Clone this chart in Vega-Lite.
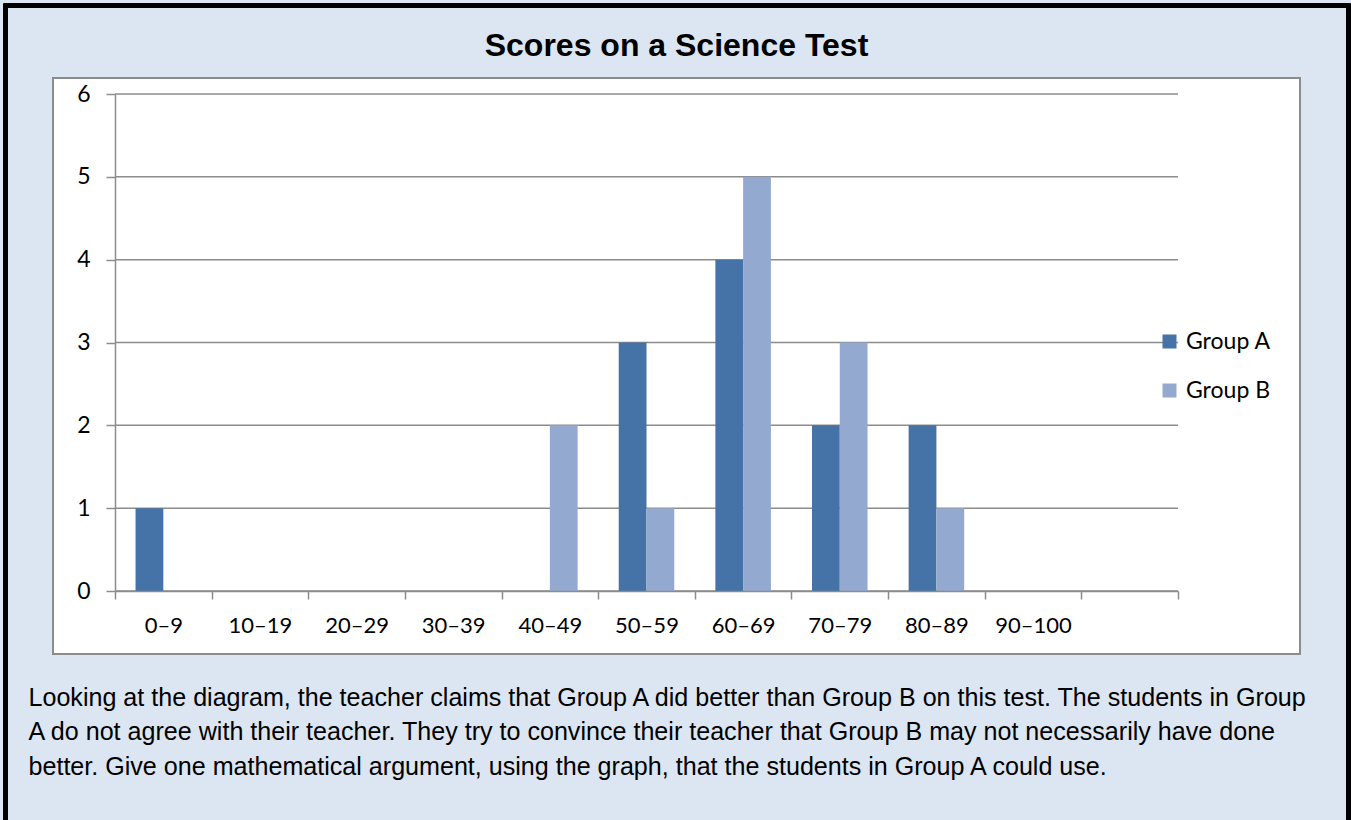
{
  "$schema": "https://vega.github.io/schema/vega-lite/v6.json",
  "width": 1063,
  "height": 497,
  "autosize": {"type": "none"},
  "padding": {"left": 115, "top": 94, "right": 173, "bottom": 229},
  "background": "#dce6f2",
  "config": {"view": {"stroke": null}, "font": "Lato"},
  "title": {
    "text": "Scores on a Science Test",
    "font": "Liberation Sans",
    "fontSize": 32,
    "fontWeight": "bold",
    "color": "#000000",
    "anchor": "middle",
    "frame": "group",
    "baseline": "alphabetic",
    "offset": -84,
    "dx": 30
  },
  "data": {
    "values": [
      {"range": "0–9", "group": "Group A", "count": 1},
      {"range": "0–9", "group": "Group B", "count": 0},
      {"range": "10–19", "group": "Group A", "count": 0},
      {"range": "10–19", "group": "Group B", "count": 0},
      {"range": "20–29", "group": "Group A", "count": 0},
      {"range": "20–29", "group": "Group B", "count": 0},
      {"range": "30–39", "group": "Group A", "count": 0},
      {"range": "30–39", "group": "Group B", "count": 0},
      {"range": "40–49", "group": "Group A", "count": 0},
      {"range": "40–49", "group": "Group B", "count": 2},
      {"range": "50–59", "group": "Group A", "count": 3},
      {"range": "50–59", "group": "Group B", "count": 1},
      {"range": "60–69", "group": "Group A", "count": 4},
      {"range": "60–69", "group": "Group B", "count": 5},
      {"range": "70–79", "group": "Group A", "count": 2},
      {"range": "70–79", "group": "Group B", "count": 3},
      {"range": "80–89", "group": "Group A", "count": 2},
      {"range": "80–89", "group": "Group B", "count": 1},
      {"range": "90–100", "group": "Group A", "count": 0},
      {"range": "90–100", "group": "Group B", "count": 0}
    ]
  },
  "layer": [
    {
      "mark": {"type": "rect", "fill": null, "stroke": "#000000", "strokeWidth": 3.5},
      "encoding": {
        "x": {"datum": "0–9", "type": "nominal", "bandPosition": -1.133},
        "x2": {"datum": "extra", "bandPosition": 2.764},
        "y": {"datum": 7.068, "type": "quantitative"},
        "y2": {"datum": -3}
      }
    },
    {
      "mark": {"type": "rect", "fill": "#ffffff", "stroke": "#8c8c8c", "strokeWidth": 2},
      "encoding": {
        "x": {"datum": "0–9", "type": "nominal", "bandPosition": -0.6416},
        "x2": {"datum": "extra", "bandPosition": 2.2625},
        "y": {"datum": 6.193, "type": "quantitative"},
        "y2": {"datum": -0.76}
      }
    },
    {
      "data": {"values": [{"v": 0}, {"v": 1}, {"v": 2}, {"v": 3}, {"v": 4}, {"v": 5}, {"v": 6}]},
      "mark": {"type": "rule", "stroke": "#8c8c8c", "strokeWidth": 1.5},
      "encoding": {
        "y": {"field": "v", "type": "quantitative"}
      }
    },
    {
      "mark": {"type": "bar"},
      "encoding": {
        "x": {
          "field": "range",
          "type": "nominal",
          "sort": null,
          "scale": {
            "domain": ["0–9", "10–19", "20–29", "30–39", "40–49", "50–59", "60–69", "70–79", "80–89", "90–100", "extra"],
            "paddingInner": 0,
            "paddingOuter": 0
          },
          "axis": {
            "zindex": 1,
            "grid": false,
            "domain": true,
            "domainColor": "#8c8c8c",
            "domainWidth": 1.5,
            "tickBand": "extent",
            "tickColor": "#8c8c8c",
            "tickWidth": 1.5,
            "tickSize": 8,
            "labelAngle": 0,
            "labelAlign": "center",
            "labelFont": "Lato",
            "labelFontSize": 22,
            "labelColor": "#000000",
            "labelPadding": 26,
            "labelBaseline": "middle",
            "labelExpr": "datum.value == 'extra' ? '' : datum.label",
            "title": [
              "Looking at the diagram, the teacher claims that Group A did better than Group B on this test. The students in Group",
              "A do not agree with their teacher. They try to convince their teacher that Group B may not necessarily have done",
              "better. Give one mathematical argument, using the graph, that the students in Group A could use."
            ],
            "titleFont": "Liberation Sans",
            "titleFontSize": 25.1,
            "titleFontWeight": "normal",
            "titleColor": "#000000",
            "titleAlign": "left",
            "titleBaseline": "alphabetic",
            "titleAngle": 0,
            "titleX": -87,
            "titleY": 114,
            "titleLineHeight": 34.5
          }
        },
        "xOffset": {
          "field": "group",
          "type": "nominal",
          "scale": {"paddingInner": 0, "paddingOuter": 0.74}
        },
        "y": {
          "field": "count",
          "type": "quantitative",
          "scale": {"domain": [0, 6], "nice": false, "zero": false},
          "axis": {
            "zindex": 1,
            "grid": false,
            "values": [0, 1, 2, 3, 4, 5, 6],
            "format": "d",
            "domain": true,
            "domainColor": "#8c8c8c",
            "domainWidth": 1.5,
            "tickColor": "#8c8c8c",
            "tickWidth": 1.5,
            "tickSize": 9,
            "labelFont": "Lato",
            "labelFontSize": 23,
            "labelColor": "#000000",
            "labelPadding": 16,
            "title": null
          }
        },
        "color": {
          "field": "group",
          "type": "nominal",
          "scale": {"domain": ["Group A", "Group B"], "range": ["#4572A7", "#93A9CF"]},
          "legend": {
            "orient": "none",
            "legendX": 1043,
            "legendY": 236,
            "title": null,
            "symbolType": "square",
            "symbolSize": 196,
            "symbolStrokeWidth": 0,
            "labelFont": "Lato",
            "labelFontSize": 23,
            "labelColor": "#000000",
            "labelOffset": 5,
            "rowPadding": 25
          }
        }
      }
    }
  ]
}
